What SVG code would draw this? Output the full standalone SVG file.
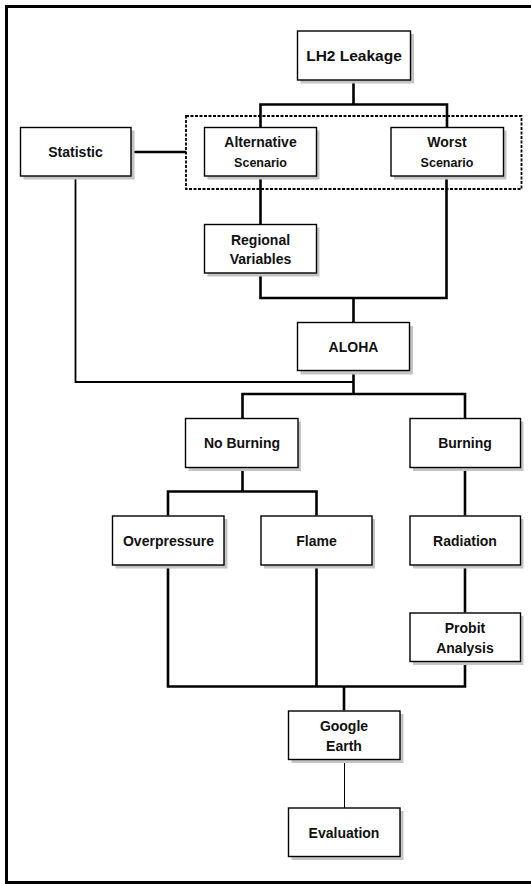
<svg xmlns="http://www.w3.org/2000/svg" width="531" height="884" viewBox="0 0 531 884">
<style>
.bg{fill:#ffffff}
.frame{fill:none;stroke:#000;stroke-width:3}
.box{fill:#fff;stroke:#000;stroke-width:1.4}
.shadow{fill:#c4c4c4}
.t{font-family:"Liberation Sans",Arial,sans-serif;font-weight:bold;font-size:14px;fill:#111;text-anchor:middle}
.big{font-size:15.5px}
.sm{font-size:12.5px}
.c{fill:none;stroke:#000;stroke-width:2.6;stroke-linejoin:miter}
.c2{fill:none;stroke:#000;stroke-width:1.8}
.c1{fill:none;stroke:#000;stroke-width:1}
.dash{fill:none;stroke:#000;stroke-width:1.8;stroke-dasharray:3 1.5}
</style>
<rect class="bg" x="0" y="0" width="531" height="884"/>
<path class="frame" d="M540 6.5 H6.5 V882.5 H540"/>
<g id="connectors">
<path class="c" d="M353.5 80 V104.5 M260.5 127 V104.5 H447 V127"/>
<path class="c" d="M131 152 H186"/>
<path class="c" d="M260.5 176 V224"/>
<path class="c" d="M260.5 273 V298 H446.5 V176"/>
<path class="c" d="M353.5 298 V322.5"/>
<path class="c2" d="M75.5 176 V382 H353.5"/>
<path class="c" d="M353.5 370.5 V394"/>
<path class="c" d="M242.5 418.5 V394 H465 V418.5"/>
<path class="c" d="M242.5 467.5 V491.5"/>
<path class="c" d="M168 515.5 V491.5 H316.5 V515.5"/>
<path class="c" d="M465 467.5 V515.5"/>
<path class="c" d="M465 565 V612.5"/>
<path class="c" d="M168 565 V686.5 H465 V661.5 M316.5 565 V686.5"/>
<path class="c" d="M344 686.5 V710.5"/>
<path class="c1" d="M344.5 759 V808"/>
</g>
<rect id="group-scenarios" class="dash" x="186" y="116" width="335.5" height="73"/>
<g id="lh2">
<rect class="shadow" x="300.5" y="34" width="113.5" height="49.5"/>
<rect class="box" x="297.5" y="31" width="113" height="49"/>
<text class="t big" x="354" y="61">LH2 Leakage</text>
</g>
<g id="statistic">
<rect class="shadow" x="23.5" y="130.5" width="111" height="49"/>
<rect class="box" x="20.5" y="127.5" width="110.5" height="48.5"/>
<text class="t" x="75.5" y="157">Statistic</text>
</g>
<g id="alternative">
<rect class="shadow" x="207.5" y="130.5" width="112" height="49"/>
<rect class="box" x="204.5" y="127.5" width="112" height="48.5"/>
<text class="t" x="260.5" y="147">Alternative</text>
<text class="t sm" x="260.5" y="166.5">Scenario</text>
</g>
<g id="worst">
<rect class="shadow" x="394" y="130.5" width="112.5" height="49"/>
<rect class="box" x="391" y="127.5" width="112.5" height="48.5"/>
<text class="t" x="447" y="147">Worst</text>
<text class="t sm" x="447" y="166.5">Scenario</text>
</g>
<g id="regional">
<rect class="shadow" x="207.5" y="227.5" width="112" height="49"/>
<rect class="box" x="204.5" y="224.5" width="112" height="48.5"/>
<text class="t" x="260.5" y="245">Regional</text>
<text class="t" x="260.5" y="264">Variables</text>
</g>
<g id="aloha">
<rect class="shadow" x="300.5" y="326" width="112.5" height="48.5"/>
<rect class="box" x="297.5" y="322.5" width="112" height="48"/>
<text class="t" x="353.5" y="351.5">ALOHA</text>
</g>
<g id="noburning">
<rect class="shadow" x="188.5" y="421.5" width="112.5" height="49.5"/>
<rect class="box" x="185.5" y="418.5" width="112.5" height="49"/>
<text class="t" x="242" y="448">No Burning</text>
</g>
<g id="burning">
<rect class="shadow" x="413" y="421.5" width="110.5" height="49.5"/>
<rect class="box" x="410" y="418.5" width="110.5" height="49"/>
<text class="t" x="465" y="448">Burning</text>
</g>
<g id="overpressure">
<rect class="shadow" x="115.5" y="519" width="112" height="49.5"/>
<rect class="box" x="112.5" y="516" width="111.5" height="49"/>
<text class="t" x="168.5" y="545.5">Overpressure</text>
</g>
<g id="flame">
<rect class="shadow" x="264" y="519" width="111" height="49.5"/>
<rect class="box" x="261" y="516" width="111" height="49"/>
<text class="t" x="316.5" y="545.5">Flame</text>
</g>
<g id="radiation">
<rect class="shadow" x="413" y="519" width="110.5" height="49.5"/>
<rect class="box" x="410" y="516" width="110.5" height="49"/>
<text class="t" x="465" y="545.5">Radiation</text>
</g>
<g id="probit">
<rect class="shadow" x="413" y="616" width="110.5" height="49"/>
<rect class="box" x="410" y="613" width="110.5" height="48.5"/>
<text class="t" x="465" y="633">Probit</text>
<text class="t" x="465" y="653">Analysis</text>
</g>
<g id="google">
<rect class="shadow" x="291.5" y="714" width="112" height="49"/>
<rect class="box" x="288.5" y="711" width="111.5" height="48.5"/>
<text class="t" x="344" y="730.5">Google</text>
<text class="t" x="344" y="750.5">Earth</text>
</g>
<g id="evaluation">
<rect class="shadow" x="291.5" y="811" width="112" height="49"/>
<rect class="box" x="288.5" y="808" width="111.5" height="48.5"/>
<text class="t" x="344" y="837.5">Evaluation</text>
</g>
</svg>
